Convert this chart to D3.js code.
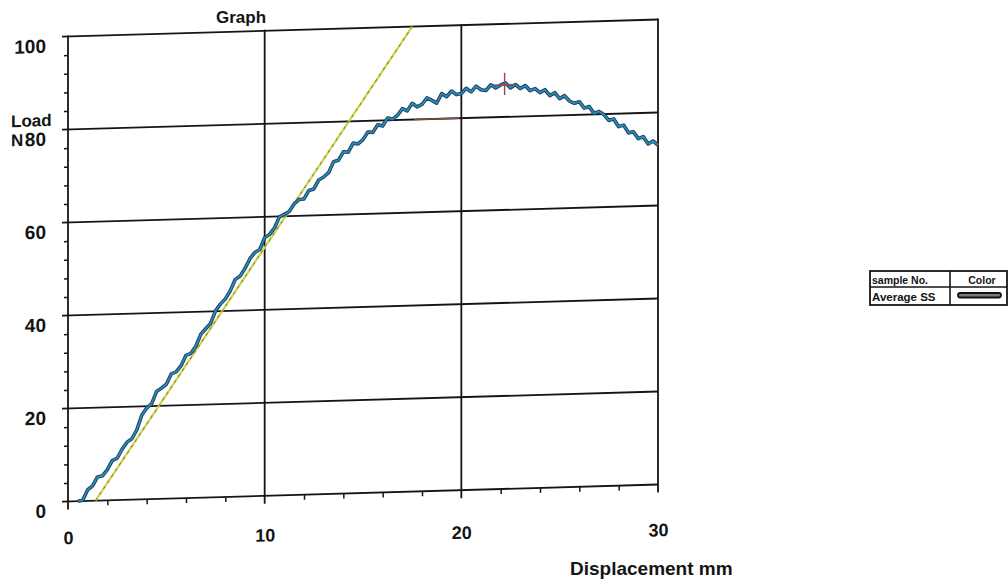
<!DOCTYPE html>
<html>
<head>
<meta charset="utf-8">
<script src="https://cdn.jsdelivr.net/npm/d3@7"></script>
<style>
  html, body { margin: 0; padding: 0; background: #fff; }
  #chart { width: 1008px; height: 583px; }
  text { font-family: "Liberation Sans", Arial, sans-serif; fill: #141414; }
</style>
</head>
<body>
<div id="chart"></div>
<script>
// tick values / labels
const xTicks = [0, 10, 20, 30];
const yTicks = [0, 20, 40, 60, 80, 100];
const xMinor = [2, 4, 6, 8, 12, 14, 16, 18, 22, 24, 26, 28];
const yMinor = [4, 8, 12, 16, 24, 28, 32, 36, 44, 48, 52, 56, 64, 68, 72, 76, 84, 88, 92, 96];

// Average SS curve (displacement mm / load N)
const dispMm = [0.5, 0.75, 1.0, 1.25, 1.5, 1.75, 2.0, 2.25, 2.5, 2.75, 3.0, 3.25, 3.5, 3.75, 4.0, 4.25, 4.5, 4.75,
  5.0, 5.25, 5.5, 5.75, 6.0, 6.25, 6.5, 6.75, 7.0, 7.25, 7.5, 7.75, 8.0, 8.25, 8.5, 8.75, 9.0, 9.25, 9.5, 9.75,
  10.0, 10.25, 10.5, 10.75, 11.0, 11.25, 11.5, 11.75, 12.0, 12.25, 12.5, 12.75, 13.0, 13.25, 13.5, 13.75,
  14.0, 14.25, 14.5, 14.75, 15.0, 15.25, 15.5, 15.75, 16.0, 16.25, 16.5, 16.75, 17.0, 17.25, 17.5, 17.75,
  18.0, 18.25, 18.5, 18.75, 19.0, 19.25, 19.5, 19.75, 20.0, 20.25, 20.5, 20.75, 21.0, 21.25, 21.5, 21.75,
  22.0, 22.25, 22.5, 22.75, 23.0, 23.25, 23.5, 23.75, 24.0, 24.25, 24.5, 24.75, 25.0, 25.25, 25.5, 25.75,
  26.0, 26.25, 26.5, 26.75, 27.0, 27.25, 27.5, 27.75, 28.0, 28.25, 28.5, 28.75, 29.0, 29.25, 29.5, 29.75, 30.0];
const loadN = [0, 0.2, 2.4, 3.2, 5.1, 5.3, 6.6, 8.5, 9.0, 10.9, 12.4, 13.1, 15.0, 18.1, 19.6, 20.5, 23.1, 23.8,
  24.6, 26.8, 27.2, 28.5, 30.7, 31.1, 32.6, 35.1, 36.3, 37.4, 40.1, 41.5, 42.6, 44.3, 46.7, 47.4, 49.0, 51.1, 52.4, 53.0,
  55.5, 56.2, 57.6, 59.9, 60.4, 61.0, 62.6, 63.5, 63.6, 65.4, 65.7, 67.6, 68.2, 69.1, 71.4, 71.7,
  73.5, 73.4, 75.3, 75.1, 76.0, 77.6, 77.5, 79.1, 78.8, 80.5, 80.2, 81.0, 82.4, 81.9, 83.5, 82.7,
  83.2, 84.6, 84.0, 83.4, 85.4, 84.7, 85.9, 85.1, 85.3, 86.4, 85.6, 86.8, 86.0, 85.8, 87.0, 86.3,
  86.9, 87.3, 86.2, 86.9, 86.0, 86.6, 85.5, 85.9, 85.0, 85.6, 84.3, 84.9, 83.6, 84.2, 83.0, 82.5,
  82.8, 81.4, 81.7, 80.2, 80.6, 79.9, 78.6, 78.9, 77.2, 77.5, 75.8, 76.0, 74.5, 74.9, 73.3, 73.9, 73.0];

// initial slope line
const fitX = [1.4, 17.5];
const fitY = [0, 100];

// max load marker
const peakX = [22.2];
const peakY = [86.9];

const legendHead = ["sample No.", "Color"];
const legendRows = ["Average SS"];

const W = 1008, H = 583;
const svg = d3.select('#chart').append('svg').attr('width', W).attr('height', H);

const x = d3.scaleLinear().domain([0, 30]).range([68, 658]);
const y = d3.scaleLinear().domain([0, 100]).range([501.5, 36.5]);

// the scan is a little tilted, so the whole plot gets sheared
const tilt = -17 / 590;
const plot = svg.append('g')
  .attr('transform', `matrix(1,${tilt},0,1,0,${-tilt * x(0)})`);

const ink = '#151515';

// grid
plot.selectAll('.hgrid')
  .data(yTicks)
  .join('line')
  .attr('class', 'hgrid')
  .attr('x1', x(0) - 6).attr('x2', x(30))
  .attr('y1', d => y(d)).attr('y2', d => y(d))
  .attr('stroke', ink).attr('stroke-width', 1.8);

plot.selectAll('.vgrid')
  .data(xTicks)
  .join('line')
  .attr('class', 'vgrid')
  .attr('x1', d => x(d)).attr('x2', d => x(d))
  .attr('y1', y(100) - 1).attr('y2', y(0) + 8)
  .attr('stroke', ink).attr('stroke-width', 1.8);

// minor ticks
const yMin = plot.append('g')
  .attr('transform', `translate(${x(0)},0)`)
  .call(d3.axisLeft(y).tickValues(yMinor).tickSize(4).tickFormat(''));
yMin.select('.domain').remove();
yMin.selectAll('line').attr('stroke', ink).attr('stroke-width', 1.5);

const xMin = plot.append('g')
  .attr('transform', `translate(0,${y(0)})`)
  .call(d3.axisBottom(x).tickValues(xMinor).tickSize(5).tickFormat(''));
xMin.select('.domain').remove();
xMin.selectAll('line').attr('stroke', ink).attr('stroke-width', 1.5);

// y tick labels
const yLab = plot.append('g')
  .attr('transform', `translate(${x(0)},0)`)
  .call(d3.axisLeft(y).tickValues(yTicks).tickSize(0).tickPadding(22));
yLab.select('.domain').remove();
yLab.attr('font-family', null).attr('font-size', null);
yLab.selectAll('text')
  .attr('y', 9)
  .style('font-size', '19px').style('font-weight', 'bold').attr('fill', '#141414');

// axis name "Load" / "N"
plot.append('text').attr('x', 11).attr('y', y(80) - 4)
  .style('font-size', '17px').style('font-weight', 'bold').text('Load');
plot.append('text').attr('x', 11).attr('y', y(80) + 15)
  .style('font-size', '17px').style('font-weight', 'bold').text('N');

// x tick labels (tilt a bit less than the grid)
const tilt2 = -8 / 590;
const xLab = svg.append('g')
  .attr('transform', `matrix(1,${tilt2},0,1,0,${-tilt2 * x(0)})`)
  .append('g')
  .attr('transform', `translate(0,${y(0)})`)
  .call(d3.axisBottom(x).tickValues(xTicks).tickSize(0).tickPadding(30));
xLab.select('.domain').remove();
xLab.attr('font-family', null).attr('font-size', null);
xLab.selectAll('text')
  .style('font-size', '18px').style('font-weight', 'bold').attr('fill', '#141414');

// slope line
const fit = fitX.map((d, i) => ({ x: d, v: fitY[i] }));
const line = d3.line().x(d => x(d.x)).y(d => y(d.v));

plot.append('path').datum(fit)
  .attr('d', line).attr('fill', 'none')
  .attr('stroke', '#d3d24c').attr('stroke-width', 2.2);
plot.append('path').datum(fit)
  .attr('d', line).attr('fill', 'none')
  .attr('stroke', '#7d8a3a').attr('stroke-width', 1)
  .attr('stroke-dasharray', '3,4');

// red marker on the 80 line
plot.append('line')
  .attr('x1', x(17.6)).attr('x2', x(19.9))
  .attr('y1', y(80)).attr('y2', y(80))
  .attr('stroke', '#8c4a44').attr('stroke-width', 1.6);

// SS curve
const curve = dispMm.map((d, i) => ({ x: d, v: loadN[i] }));
plot.append('path').datum(curve)
  .attr('d', line).attr('fill', 'none')
  .attr('stroke', '#1d3c70').attr('stroke-width', 3.6)
  .attr('stroke-linejoin', 'round');
plot.append('path').datum(curve)
  .attr('d', line).attr('fill', 'none')
  .attr('stroke', '#2b8fa7').attr('stroke-width', 1.7)
  .attr('stroke-linejoin', 'round');

// peak cross
peakX.forEach((px, i) => {
  plot.append('line')
    .attr('x1', x(px - 0.55)).attr('x2', x(px + 0.55))
    .attr('y1', y(peakY[i])).attr('y2', y(peakY[i]))
    .attr('stroke', '#9a4848').attr('stroke-width', 1.4);
  plot.append('line')
    .attr('x1', x(px)).attr('x2', x(px))
    .attr('y1', y(peakY[i] - 2.2)).attr('y2', y(peakY[i] + 2.6))
    .attr('stroke', '#9a4848').attr('stroke-width', 1.4);
});

// titles
svg.append('text').attr('x', 241).attr('y', 23).attr('text-anchor', 'middle')
  .style('font-size', '17px').style('font-weight', 'bold').text('Graph');
svg.append('text').attr('x', 570).attr('y', 575)
  .style('font-size', '19px').style('font-weight', 'bold').text('Displacement mm');

// legend table
const lg = svg.append('g').attr('transform', 'translate(870,271)');
const lw = 137, lh = 34, split = 80, mid = 16;
lg.append('rect').attr('width', lw).attr('height', lh)
  .attr('fill', 'none').attr('stroke', ink).attr('stroke-width', 1.8);
lg.append('line').attr('x1', 0).attr('x2', lw).attr('y1', mid).attr('y2', mid)
  .attr('stroke', ink).attr('stroke-width', 1.6);
lg.append('line').attr('x1', split).attr('x2', split).attr('y1', 0).attr('y2', lh)
  .attr('stroke', ink).attr('stroke-width', 1.6);
lg.append('text').attr('x', 2).attr('y', 13)
  .style('font-size', '10.5px').style('font-weight', 'bold').text(legendHead[0]);
lg.append('text').attr('x', split + 32).attr('y', 13).attr('text-anchor', 'middle')
  .style('font-size', '10.5px').style('font-weight', 'bold').text(legendHead[1]);
legendRows.forEach((r, i) => {
  lg.append('text').attr('x', 2).attr('y', 30 + i * 16)
    .style('font-size', '11.5px').style('font-weight', 'bold').text(r);
  lg.append('rect').attr('x', split + 8).attr('y', 22 + i * 16)
    .attr('width', 43).attr('height', 4.5).attr('rx', 2.2)
    .attr('fill', '#7a7a7a').attr('stroke', '#111').attr('stroke-width', 1.8);
});
</script>
</body>
</html>
